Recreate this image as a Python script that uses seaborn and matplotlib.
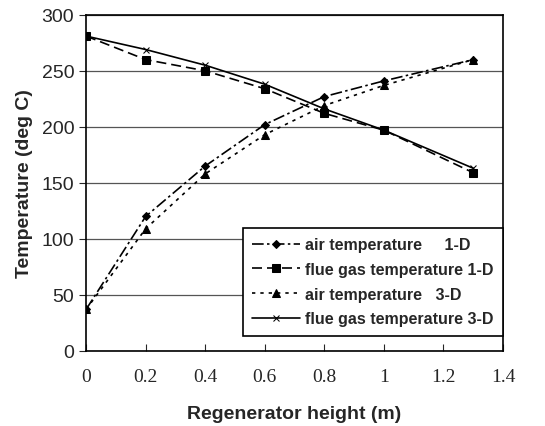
import matplotlib

matplotlib.use("Agg")

import matplotlib.pyplot as plt
import seaborn as sns


# values
heights = [0, 0.2, 0.4, 0.6, 0.8, 1.0, 1.3]
air_1d = [37, 120, 165, 202, 227, 241, 260]
flue_1d = [281, 260, 250, 234, 212, 197, 159]
air_3d = [37, 109, 158, 193, 219, 237, 260]
flue_3d = [281, 269, 255, 238, 216, 197, 163]

series_names = [
    "air temperature     1-D",
    "flue gas temperature 1-D",
    "air temperature   3-D",
    "flue gas temperature 3-D",
]
x_ticks = [0, 0.2, 0.4, 0.6, 0.8, 1, 1.2, 1.4]
x_tick_labels = ["0", "0.2", "0.4", "0.6", "0.8", "1", "1.2", "1.4"]
y_ticks = [0, 50, 100, 150, 200, 250, 300]


def main():
    sns.set_style("white")
    plt.rcParams["font.family"] = ["Liberation Sans", "DejaVu Sans"]

    fig = plt.figure(figsize=(5.45, 4.27), dpi=100)
    ax = fig.add_axes([0.158, 0.176, 0.765, 0.787])

    styles = [
        ("D", 4.5, (0, (7, 2, 1.5, 2))),
        ("s", 6, (0, (6, 3))),
        ("^", 6, (0, (2, 3))),
        ("x", 5, "-"),
    ]
    for name, values, (marker, msize, ls) in zip(
        series_names, [air_1d, flue_1d, air_3d, flue_3d], styles
    ):
        sns.lineplot(
            x=heights,
            y=values,
            color="black",
            marker=marker,
            markersize=msize,
            markeredgecolor="black",
            linestyle=ls,
            linewidth=1.2,
            label=name,
            ax=ax,
        )

    ax.set_xlim(0, 1.4)
    ax.set_ylim(0, 300)
    ax.set_xticks(x_ticks)
    ax.set_xticklabels(x_tick_labels, family="Liberation Serif", fontsize=14)
    ax.set_yticks(y_ticks)
    ax.tick_params(axis="y", labelsize=14, length=5, direction="out", left=True)
    ax.tick_params(axis="x", length=5, direction="in", bottom=True, pad=12)
    ax.yaxis.grid(True, color="#555555", linewidth=0.9)
    for spine in ax.spines.values():
        spine.set_color("black")
        spine.set_linewidth(1.2)

    ax.set_xlabel("Regenerator height (m)", fontsize=14, fontweight="bold", labelpad=15)
    ax.set_ylabel("Temperature (deg C)", fontsize=14, fontweight="bold", labelpad=6)

    legend = ax.legend(
        loc="lower right",
        bbox_to_anchor=(1.0, 0.045),
        frameon=True,
        fancybox=False,
        edgecolor="black",
        framealpha=1,
        prop={"weight": "bold", "size": 11.5},
        handlelength=3,
        handletextpad=0.3,
        labelspacing=0.6,
        borderpad=0.6,
        borderaxespad=0,
    )
    legend.get_frame().set_linewidth(1.2)

    fig.savefig("out.png", dpi=100)
    plt.close(fig)


if __name__ == "__main__":
    main()
